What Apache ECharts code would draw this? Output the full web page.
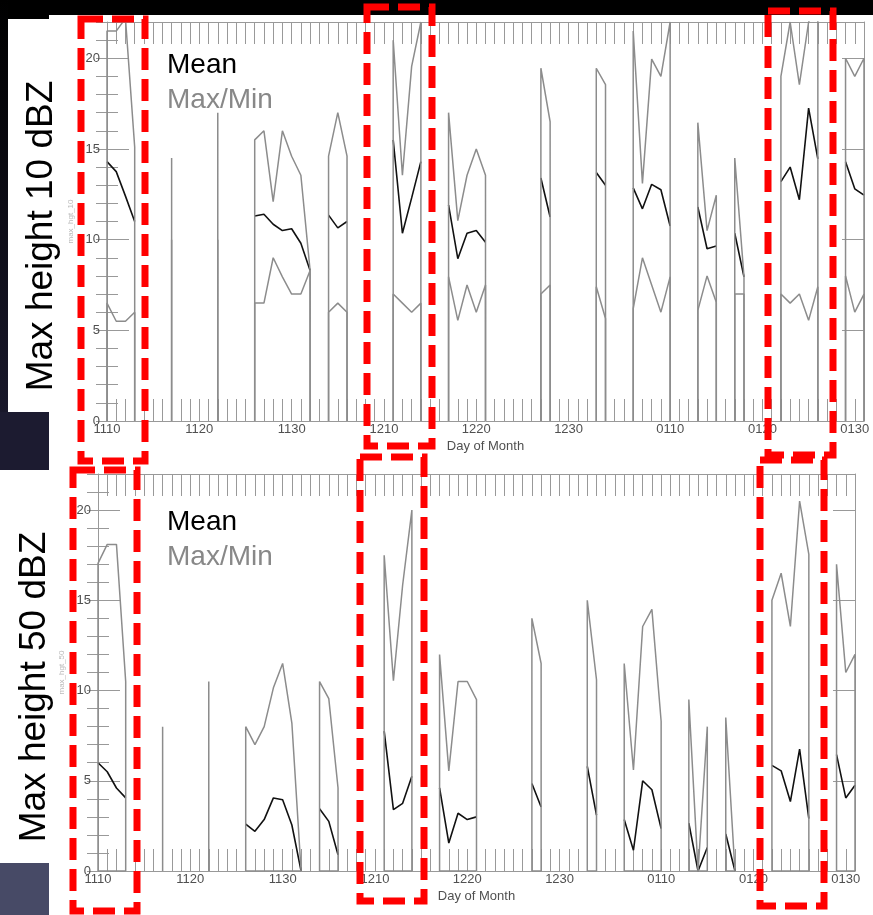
<!DOCTYPE html>
<html><head><meta charset="utf-8">
<script src="https://cdn.jsdelivr.net/npm/echarts@6/dist/echarts.min.js"></script>
<style>html,body{margin:0;padding:0;background:#fff}#c{width:873px;height:915px}</style>
</head><body><div id="c"></div>
<script>
// ---- data (index = day since Nov 10) ----
const tickDays = [0,10,20,30,40,50,61,71,81];
const tickLabels = ['1110','1120','1130','1210','1220','1230','0110','0120','0130'];
const yTicks = [0,5,10,15,20];
const _ = null;
const max10 = [
  21.5,21.5,22.2,15.1,_,_,_,14.5,_,_,
  _,_,17.0,_,_,_,15.5,16.0,12.1,16.0,
  14.6,13.55,8.3,_,14.6,17.0,14.6,_,_,_,
  _,21.0,13.55,19.55,22.0,_,_,17.0,11.05,13.55,
  15.0,13.55,_,_,_,_,_,19.45,16.5,_,
  _,_,_,19.45,18.55,_,_,21.5,13.1,19.95,
  19.0,22.0,_,_,16.45,10.5,12.45,_,14.5,7.95,
  _,_,_,19.0,22.0,18.55,22.0,23.0,_,_,
  20.0,19.0,20.0];
const mean10 = [
  14.3,13.75,12.4,11.0,_,_,_,12,_,_,
  _,_,13,_,_,_,11.3,11.4,10.85,10.5,
  10.6,9.8,8.3,_,11.35,10.65,11.0,_,_,_,
  _,15.5,10.35,12.3,14.3,_,_,11.9,8.95,10.35,
  10.5,9.85,_,_,_,_,_,13.4,11.25,_,
  _,_,_,13.7,13.0,_,_,12.85,11.7,13.05,
  12.75,10.75,_,_,11.8,9.5,9.65,_,10.35,7.95,
  _,_,_,13.2,14.0,12.2,17.25,14.45,_,_,
  14.3,12.8,12.45];
const min10 = [
  6.5,5.5,5.5,6.0,_,_,_,10,_,_,
  _,_,10,_,_,_,6.5,6.5,9.0,7.95,
  7.0,7.0,8.3,_,6.0,6.5,6.0,_,_,_,
  _,7.0,6.5,6.0,6.5,_,_,7.95,5.55,7.5,
  6.0,7.5,_,_,_,_,_,7.0,7.5,_,
  _,_,_,7.4,5.65,_,_,6.2,9.0,7.5,
  6.0,7.95,_,_,6.1,8.0,6.55,_,7.0,7.0,
  _,_,_,7.0,6.5,7.0,5.55,7.4,_,_,
  8.0,6.0,7.0];
const max50 = [
  17.05,18.1,18.1,10.5,_,_,_,8.0,_,_,
  _,_,10.5,_,_,_,8.0,7.0,8.0,10.15,
  11.5,8.2,0,_,10.5,9.55,4.6,_,_,_,
  _,17.5,10.55,15.85,20.0,_,_,12.0,5.55,10.5,
  10.5,9.5,_,_,_,_,_,14.0,11.5,_,
  _,_,_,15.0,10.6,_,_,11.5,5.6,13.55,
  14.5,8.3,_,_,9.5,0,8.0,_,8.5,0,
  _,_,_,15.0,16.5,13.55,20.5,17.55,_,_,
  17.0,11.0,12.0];
const mean50 = [
  6.0,5.5,4.6,4.05,_,_,_,4.0,_,_,
  _,_,5.0,_,_,_,2.6,2.2,2.85,4.05,
  3.95,2.55,0,_,3.45,2.75,0.9,_,_,_,
  _,7.75,3.4,3.75,5.25,_,_,4.6,1.55,3.2,
  2.85,3.0,_,_,_,_,_,4.85,3.55,_,
  _,_,_,5.8,3.1,_,_,2.85,1.15,5.0,
  4.5,2.35,_,_,2.65,0,1.3,_,2.05,0,
  _,_,_,5.85,5.55,3.85,6.75,2.9,_,_,
  6.45,4.05,4.75];
const min50 = [
  0,0,0,0,_,_,_,0,_,_,
  _,_,0,_,_,_,0,0,0,0,
  0,0,0,_,0,0,0,_,_,_,
  _,0,0,0,0,_,_,0,0,0,
  0,0,_,_,_,_,_,0,0,_,
  _,_,_,0,0,_,_,0,0,0,
  0,0,_,_,0,0,0,_,0,0,
  _,_,_,0,0,0,0,0,_,_,
  0,0,0];

// ---- build line data: each run of days (optionally) drops to 0 at both ends ----
function segs(vals, drop){
  const out=[]; let d=0;
  while(d<vals.length){
    if(vals[d]==null){d++;continue;}
    const a=d; while(d<vals.length && vals[d]!=null) d++;
    const b=d-1;
    if(drop) out.push([a,0]);
    for(let k=a;k<=b;k++) out.push([k,vals[k]]);
    if(drop) out.push([b,0]);
    out.push([b,null]);
  }
  return out;
}

const FONT = 'Liberation Sans, Arial, sans-serif';
const AX = '#999';
const GRAY = '#8c8c8c';
const LBL = '#505050';

const grids = [
  {left:107, top:22, width:757, height:399},
  {left:98, top:474, width:757, height:397}
];
const xAxes=[], yAxes=[], series=[];
const panels = [
  {mean:mean10, max:max10, min:min10, yname:'max_hgt_10'},
  {mean:mean50, max:max50, min:min50, yname:'max_hgt_50'}
];
panels.forEach((p,gi)=>{
  xAxes.push({gridIndex:gi, type:'value', min:0, max:82, interval:1, position:'bottom',
    axisLine:{show:true, onZero:false, lineStyle:{color:AX,width:1}},
    axisTick:{show:true, inside:true, length:22, lineStyle:{color:AX,width:1}},
    axisLabel:{formatter:v=>{const i=tickDays.indexOf(v);return i>=0?tickLabels[i]:'';}, color:LBL, fontSize:13, margin:2, fontFamily:FONT},
    splitLine:{show:false},
    name:'Day of Month', nameLocation:'middle', nameGap:19,
    nameTextStyle:{color:LBL, fontSize:13, fontFamily:FONT}});
  xAxes.push({gridIndex:gi, type:'value', min:0, max:82, interval:1, position:'top',
    axisLine:{show:true, onZero:false, lineStyle:{color:AX,width:1}},
    axisTick:{show:true, inside:true, length:22, lineStyle:{color:AX,width:1}},
    axisLabel:{show:false}, splitLine:{show:false}});
  const yBase = {gridIndex:gi, type:'value', min:0, max:22, splitLine:{show:false}};
  yAxes.push(Object.assign({}, yBase, {position:'left', interval:5,
    axisLine:{show:true, onZero:false, lineStyle:{color:AX,width:1}},
    axisTick:{show:true, inside:true, length:22, lineStyle:{color:AX,width:1}},
    axisLabel:{formatter:v=>yTicks.indexOf(v)>=0?String(v):'', color:LBL, fontSize:13, margin:7, fontFamily:FONT},
    name:p.yname, nameLocation:'middle', nameGap:24,
    nameTextStyle:{color:'#bbb', fontSize:8, fontFamily:FONT}}));
  yAxes.push(Object.assign({}, yBase, {position:'left', interval:1,
    axisLine:{show:false}, axisTick:{show:true, inside:true, length:11, lineStyle:{color:AX,width:1}},
    axisLabel:{show:false}}));
  yAxes.push(Object.assign({}, yBase, {position:'right', interval:5,
    axisLine:{show:true, onZero:false, lineStyle:{color:AX,width:1}},
    axisTick:{show:true, inside:true, length:22, lineStyle:{color:AX,width:1}},
    axisLabel:{show:false}}));
  yAxes.push(Object.assign({}, yBase, {position:'right', interval:1,
    axisLine:{show:false}, axisTick:{show:true, inside:true, length:11, lineStyle:{color:AX,width:1}},
    axisLabel:{show:false}}));
  const xi = gi*2, yi = gi*4;
  const common = {type:'line', xAxisIndex:xi, yAxisIndex:yi, symbol:'none', clip:true, animation:false, silent:true};
  series.push(Object.assign({}, common, {name:'Mean', data:segs(p.mean,false), lineStyle:{color:'#111', width:1.6}, z:2}));
  series.push(Object.assign({}, common, {name:'Max', data:segs(p.max,true), lineStyle:{color:GRAY, width:1.5}, z:3}));
  series.push(Object.assign({}, common, {name:'Min', data:segs(p.min,true), lineStyle:{color:GRAY, width:1.5}, z:3}));
});

function box(x1,y1,x2,y2){
  return {type:'rect', z:100, shape:{x:x1,y:y1,width:x2-x1,height:y2-y1},
    style:{fill:'none', stroke:'#ff0000', lineWidth:7, lineDash:[22,9]}};
}
const graphics = [
  {type:'rect', z:0, shape:{x:0,y:0,width:873,height:15}, style:{fill:'#000'}},
  {type:'rect', z:0, shape:{x:0,y:0,width:49,height:19}, style:{fill:'#000'}},
  {type:'rect', z:0, shape:{x:0,y:0,width:8,height:470}, style:{fill:{type:'linear',x:0,y:0,x2:0,y2:1,colorStops:[{offset:0,color:'#000'},{offset:1,color:'#1c1b30'}]}}},
  {type:'rect', z:0, shape:{x:0,y:412,width:49,height:58}, style:{fill:'#1c1b30'}},
  {type:'rect', z:0, shape:{x:0,y:863,width:49,height:52}, style:{fill:'#474a66'}},
  {type:'text', z:50, x:42, y:236, rotation:Math.PI/2, style:{text:'Max height 10 dBZ', x:0, y:0, align:'center', verticalAlign:'middle', font:'37px '+FONT, fill:'#000'}},
  {type:'text', z:50, x:35, y:687, rotation:Math.PI/2, style:{text:'Max height 50 dBZ', x:0, y:0, align:'center', verticalAlign:'middle', font:'37px '+FONT, fill:'#000'}},
  {type:'text', z:50, x:167, y:65, style:{text:'Mean', align:'left', verticalAlign:'middle', font:'28px '+FONT, fill:'#000'}},
  {type:'text', z:50, x:167, y:100, style:{text:'Max/Min', align:'left', verticalAlign:'middle', font:'28px '+FONT, fill:'#888'}},
  {type:'text', z:50, x:167, y:522, style:{text:'Mean', align:'left', verticalAlign:'middle', font:'28px '+FONT, fill:'#000'}},
  {type:'text', z:50, x:167, y:557, style:{text:'Max/Min', align:'left', verticalAlign:'middle', font:'28px '+FONT, fill:'#888'}},
  box(81,19,145,461),
  box(367,7,432,446),
  box(768,11,833,455),
  box(73,470,137,911),
  box(360,457,424,901),
  box(760,460,824,906)
];

const chart = echarts.init(document.getElementById('c'), null, {renderer:'canvas'});
chart.setOption({
  animation:false,
  backgroundColor:'#fff',
  textStyle:{fontFamily:FONT},
  grid:grids,
  xAxis:xAxes,
  yAxis:yAxes,
  series:series,
  graphic:graphics
});
</script></body></html>
